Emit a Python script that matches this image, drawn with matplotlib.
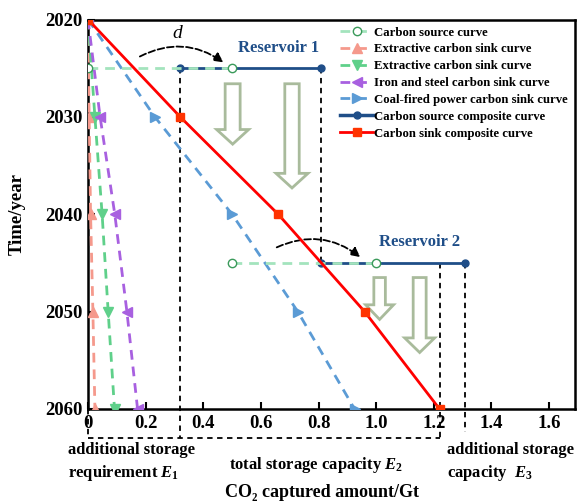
import numpy as np
import matplotlib
matplotlib.use("Agg")
import matplotlib.pyplot as plt
from matplotlib.patches import FancyArrow

plt.rcParams['font.family'] = ['Liberation Serif', 'DejaVu Serif']
plt.rcParams['font.weight'] = 'bold'
plt.rcParams['axes.labelweight'] = 'bold'
plt.rcParams['mathtext.fontset'] = 'custom'
plt.rcParams['mathtext.it'] = 'Liberation Serif:italic:bold'
plt.rcParams['mathtext.rm'] = 'Liberation Serif:bold'
plt.rcParams['mathtext.bf'] = 'Liberation Serif:bold'

# data
years = [2020, 2030, 2040, 2050, 2060]
sink_extractive_a = [0, 0.004, 0.009, 0.017, 0.024]
sink_extractive_b = [0, 0.024, 0.049, 0.070, 0.092]
sink_iron_steel = [0, 0.042, 0.093, 0.135, 0.172]
sink_coal_power = [0, 0.232, 0.50, 0.728, 0.925]
sink_composite = [0, 0.32, 0.66, 0.96, 1.22]

source_x = [0, 0.5, np.nan, 0.5, 1.0]
source_y = [2025, 2025, np.nan, 2045, 2045]
source_comp_x = [0.32, 0.81, np.nan, 0.81, 1.31]
source_comp_y = [2025, 2025, np.nan, 2045, 2045]

E1 = 0.32
E2 = 1.22
E3 = 1.31

fig = plt.figure(figsize=(5.77, 5.04), dpi=100)
ax = fig.add_axes([0.1525, 0.1885, 0.844, 0.7728])

dash = (0, (3.5, 2.5))
ax.plot(source_comp_x, source_comp_y, color='#1f4e88', lw=2, marker='o', ms=5,
        label='_nolegend_', zorder=4)
ax.plot(source_x, source_y, color='#a3e4bd', lw=2, ls=dash, marker='o', ms=6,
        mfc='white', mec='#3a9a5a', mew=1, label='Carbon source curve', zorder=5)
ax.plot(sink_extractive_a, years, color='#f5998c', lw=2, ls=dash, marker='^', ms=7,
        label='Extractive carbon sink curve', zorder=3)
ax.plot(sink_extractive_b, years, color='#5fd08a', lw=2, ls=dash, marker='v', ms=7,
        label='Extractive carbon sink curve', zorder=3)
ax.plot(sink_iron_steel, years, color='#a860e0', lw=2, ls=dash, marker='<', ms=7,
        label='Iron and steel carbon sink curve', zorder=3)
ax.plot(sink_coal_power, years, color='#5b9bd5', lw=2, ls=dash, marker='>', ms=7,
        label='Coal-fired power carbon sink curve', zorder=3)
ax.plot([], [], color='#1f4e88', lw=2.5, marker='o', ms=5,
        label='Carbon source composite curve')
ax.plot(sink_composite, years, color='#ff0000', lw=2, marker='s', ms=6,
        mfc='#ff3300', mec='#ff3300', label='Carbon sink composite curve', zorder=6)

# guide lines (some run below the axes)
kw = dict(color='black', lw=1.3, ls=(0, (3, 2.5)), clip_on=False, zorder=2)
ax.plot([E1, E1], [2025, 2063], **kw)
ax.plot([0.81, 0.81], [2025, 2045], **kw)
ax.plot([E2, E2], [2045, 2063], **kw)
ax.plot([E3, E3], [2045, 2062.4], **kw)
ax.plot([0, 0], [2060, 2063], **kw)
ax.plot([0, E2], [2063, 2063], **kw)

# curved shift arrows
akw = dict(arrowstyle='-|>', color='black', lw=1.3, ls='--', mutation_scale=14,
           connectionstyle='arc3,rad=-0.3', shrinkA=0, shrinkB=0)
ax.annotate('', xy=(0.47, 2024.4), xytext=(0.18, 2023.8), arrowprops=akw)
ax.annotate('', xy=(0.945, 2044.4), xytext=(0.655, 2043.4), arrowprops=akw)
ax.text(0.31, 2021.4, 'd', style='italic', fontweight='normal', fontsize=14,
        ha='center', va='center')

ax.text(0.66, 2022.9, 'Reservoir 1', color='#1f4e88', fontsize=12, ha='center', va='center')
ax.text(1.15, 2042.9, 'Reservoir 2', color='#1f4e88', fontsize=12, ha='center', va='center')

# hollow down arrows
for x0, y0, y1, sw, hw in [(0.502, 2026.6, 2032.8, 0.052, 0.111),
                           (0.708, 2026.6, 2037.3, 0.050, 0.111),
                           (1.012, 2046.5, 2050.8, 0.040, 0.097),
                           (1.151, 2046.5, 2054.2, 0.045, 0.104)]:
    ax.add_patch(FancyArrow(x0, y0, 0, y1 - y0, width=sw, head_width=hw,
                            head_length=1.5, length_includes_head=True,
                            fc='white', ec='#a9bb9c', lw=2, zorder=2))

ax.set_xlim(0, 1.69)
ax.set_ylim(2060, 2020)
ax.set_xticks([0, 0.2, 0.4, 0.6, 0.8, 1.0, 1.2, 1.4, 1.6])
ax.set_xticklabels(['0', '0.2', '0.4', '0.6', '0.8', '1.0', '1.2', '1.4', '1.6'])
ax.set_yticks(years)
ax.tick_params(direction='in', labelsize=13.5, width=1.5, length=5, pad=4)
for s in ax.spines.values():
    s.set_linewidth(1.8)

ax.set_ylabel('Time/year', fontsize=13.5, labelpad=14)
fig.text(0.558, 0.022, 'CO\u2082 captured amount/Gt', fontsize=13, ha='center', va='center')

fig.text(68 / 577, 1 - 450 / 504, 'additional storage', fontsize=12, ha='left', va='center')
fig.text(68 / 577, 1 - 473 / 504, r'requirement $\mathit{E}_{\mathit{1}}$', fontsize=12,
         ha='left', va='center')
fig.text(316 / 577, 1 - 465 / 504, r'total storage capacity $\mathit{E}_{\mathit{2}}$',
         fontsize=12, ha='center', va='center')
fig.text(447 / 577, 1 - 450 / 504, 'additional storage', fontsize=12, ha='left', va='center')
fig.text(447 / 577, 1 - 473 / 504, r'capacity  $\mathit{E}_{\mathit{3}}$', fontsize=12,
         ha='left', va='center')

ax.legend(loc='upper left', bbox_to_anchor=(0.503, 1.0), frameon=False, fontsize=9.2,
          handlelength=2.6, handletextpad=0.1, labelspacing=0.38, borderaxespad=0.15)

fig.savefig('out.png', dpi=100)
